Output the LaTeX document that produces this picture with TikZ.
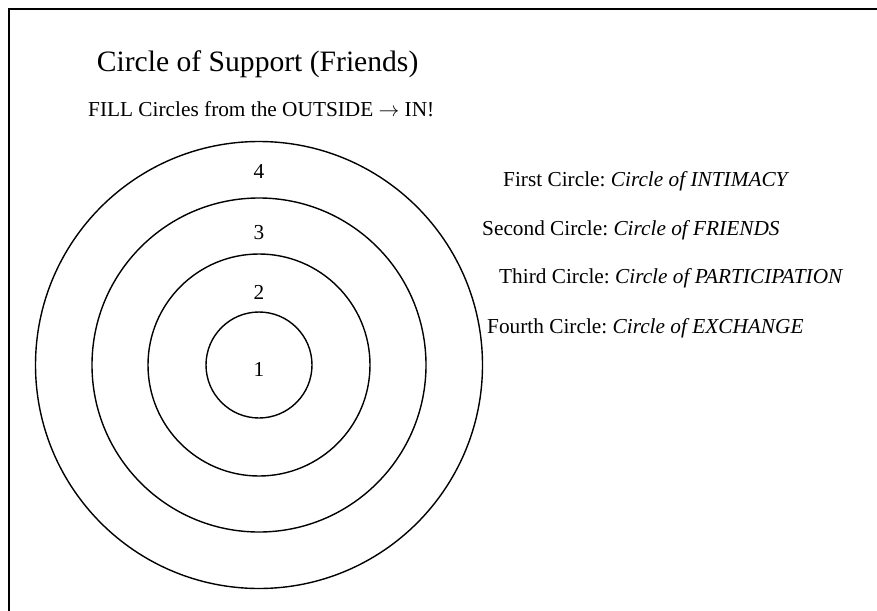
\documentclass[tikz,border=0pt]{standalone}
\usepackage{fontspec}
\setmainfont{Liberation Serif}
\frenchspacing
\begin{document}
\begin{tikzpicture}[x=1pt,y=-1pt,
  ring/.style={draw=black,line width=1.4pt,circle,inner sep=0pt},
  lbl/.style={anchor=base west,inner sep=0pt,font=\fontsize{21.3}{25}\selectfont},
  num/.style={anchor=base,inner sep=0pt,font=\fontsize{21.3}{25}\selectfont}]
\useasboundingbox (0,0) rectangle (877,610);
\draw[line width=2pt] (9,640) -- (9,9) -- (900,9);
\node[anchor=base west,inner sep=0pt,font=\fontsize{29.6}{35}\selectfont] (title) at (96.7,71) {Circle of Support (Friends)};
\node[lbl] (sub) at (88,116.7) {FILL Circles from the OUTSIDE $\rightarrow$ IN!};
\node[ring,minimum size=447pt] (c4) at (259,365) {};
\node[ring,minimum size=334pt] (c3) at (259,365) {};
\node[ring,minimum size=222pt] (c2) at (259,365) {};
\node[ring,minimum size=106pt] (c1) at (259,365) {};
\node[num] (n4) at (259,178.3) {4};
\node[num] (n3) at (259,239.3) {3};
\node[num] (n2) at (259,299.3) {2};
\node[num] (n1) at (259,376.7) {1};
\node[lbl] (l1) at (503,186.7) {First Circle: \textit{Circle of INTIMACY}};
\node[lbl] (l2) at (482,235) {Second Circle: \textit{Circle of FRIENDS}};
\node[lbl] (l3) at (499,283) {Third Circle: \textit{Circle of PARTICIPATION}};
\node[lbl] (l4) at (487,333) {Fourth Circle: \textit{Circle of EXCHANGE}};
\end{tikzpicture}
\end{document}
